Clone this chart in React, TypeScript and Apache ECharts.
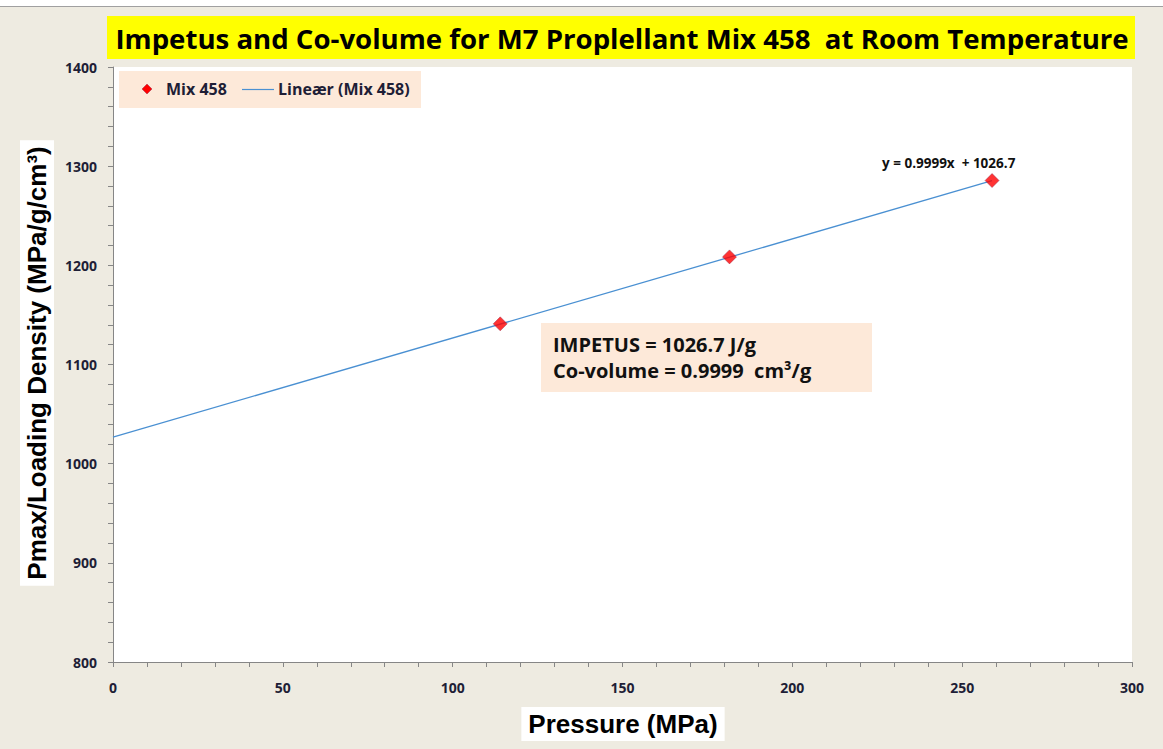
import React, { useEffect, useRef } from "react";
import * as echarts from "echarts";

const TITLE = "Impetus and Co-volume for M7 Proplellant Mix 458  at Room Temperature";
const X_TITLE = "Pressure (MPa)";
const Y_TITLE = "Pmax/Loading Density (MPa/g/cm³)";
const SERIES_NAME = "Mix 458";
const TREND_NAME = "Lineær (Mix 458)";
const PRESSURE = [114, 181.5, 258.8];
const RATIO = [1141, 1208.5, 1285.5];
const TREND_X = [0, 258.8];
const TREND_Y = [1026.7, 1285.5];
const EQUATION = "y = 0.9999x  + 1026.7";
const NOTE_LINES = ["IMPETUS = 1026.7 J/g", "Co-volume = 0.9999  cm³/g"];
const X_TICKS = { min: 0, max: 300, interval: 50 };
const Y_TICKS = { min: 800, max: 1400, interval: 100 };

const BEIGE = "#EEEBE1";
const PEACH = "#FDE9D9";
const LINE_BLUE = "#4A90D2";
const LABEL_COLOR = "#1E1E36";
const CAL = "'Open Sans', Lato, sans-serif";
const ARIAL = "'Liberation Sans', Arial, sans-serif";

export default function App() {
  const ref = useRef<HTMLDivElement>(null);
  useEffect(() => {
    if (!ref.current) return;
    const chart = echarts.init(ref.current, null, { renderer: "svg" });
    const axisCommon = {
      axisLine: { show: true, lineStyle: { color: "#868686", width: 1 } },
      axisTick: { show: true, inside: false, length: 5, lineStyle: { color: "#868686" } },
      minorTick: { show: true, splitNumber: 5, length: 5, lineStyle: { color: "#868686" } },
      splitLine: { show: false },
      minorSplitLine: { show: false },
    };
    const labelStyle = {
      fontFamily: CAL, fontWeight: "bold", fontSize: 14, color: LABEL_COLOR,
      formatter: (v: number) => String(v),
    };
    chart.setOption({
      animation: false,
      backgroundColor: BEIGE,
      grid: { left: 113, top: 67, right: 31, bottom: 87, show: true, backgroundColor: "#FFFFFF", borderWidth: 0 },
      xAxis: {
        type: "value",
        ...X_TICKS,
        ...axisCommon,
        axisLabel: { margin: 18, ...labelStyle },
      },
      yAxis: {
        type: "value",
        ...Y_TICKS,
        ...axisCommon,
        axisLabel: { margin: 16, ...labelStyle },
      },
      series: [
        {
          name: TREND_NAME,
          type: "line",
          data: TREND_X.map((x, i) => [x, TREND_Y[i]]),
          showSymbol: false,
          symbol: "none",
          lineStyle: { color: LINE_BLUE, width: 1.3 },
          z: 2,
          silent: true,
        },
        {
          name: SERIES_NAME,
          type: "scatter",
          data: PRESSURE.map((x, i) => [x, RATIO[i]]),
          symbol: "diamond",
          symbolSize: [14, 14],
          itemStyle: { color: "#FF0000", borderColor: "#9A3050", borderWidth: 0.6 },
          z: 3,
        },
      ],
      graphic: [
        { type: "rect", shape: { x: 0, y: 0, width: 1163, height: 6 }, style: { fill: "#FFFFFF" }, z: 0 },
        { type: "line", shape: { x1: 0, y1: 6.5, x2: 1163, y2: 6.5 }, style: { stroke: "#A0A0A0", lineWidth: 1 }, z: 1 },
        { type: "rect", shape: { x: 107, y: 16, width: 1028, height: 43 }, style: { fill: "#FFFF00" }, z: 1 },
        {
          type: "text", x: 622, y: 38, z: 2,
          style: { text: TITLE, fill: "#000000", font: `bold 27.6px ${CAL}`, align: "center", verticalAlign: "middle" },
        },
        // legend
        { type: "rect", shape: { x: 119, y: 71, width: 302, height: 37 }, style: { fill: PEACH }, z: 5 },
        {
          type: "polygon", z: 6,
          shape: { points: [[147, 84], [152, 89], [147, 94], [142, 89]] },
          style: { fill: "#FF0000", stroke: "#9A3050", lineWidth: 0.5 },
        },
        {
          type: "text", x: 166, y: 89, z: 6,
          style: { text: SERIES_NAME, fill: LABEL_COLOR, font: `bold 16px ${CAL}`, verticalAlign: "middle" },
        },
        { type: "line", z: 6, shape: { x1: 242, y1: 89.5, x2: 274, y2: 89.5 }, style: { stroke: LINE_BLUE, lineWidth: 1.2 } },
        {
          type: "text", x: 278, y: 89, z: 6,
          style: { text: TREND_NAME, fill: LABEL_COLOR, font: `bold 16px ${CAL}`, verticalAlign: "middle" },
        },
        // equation
        {
          type: "text", x: 882, y: 163, z: 6,
          style: { text: EQUATION, fill: "#111111", font: `bold 13.5px ${CAL}`, verticalAlign: "middle" },
        },
        // note box
        { type: "rect", shape: { x: 541, y: 323, width: 331, height: 69 }, style: { fill: PEACH }, z: 5 },
        {
          type: "text", x: 553, y: 344, z: 6,
          style: { text: NOTE_LINES[0], fill: "#111111", font: `bold 20px ${CAL}`, verticalAlign: "middle" },
        },
        {
          type: "text", x: 553, y: 370, z: 6,
          style: { text: NOTE_LINES[1], fill: "#111111", font: `bold 20px ${CAL}`, verticalAlign: "middle" },
        },
        // axis titles
        {
          type: "text", x: 623, y: 724, z: 6,
          style: {
            text: X_TITLE, fill: "#000000", font: `bold 26px ${ARIAL}`, align: "center", verticalAlign: "middle",
            backgroundColor: "#FFFFFF", padding: [4, 7, 4, 7],
          },
        },
        {
          type: "text", x: 37, y: 363, rotation: Math.PI / 2, z: 6,
          style: {
            text: Y_TITLE, fill: "#000000", font: `bold 26px ${ARIAL}`, align: "center", verticalAlign: "middle",
            backgroundColor: "#FFFFFF", padding: [4, 6, 4, 6],
          },
        },
      ],
    });
    return () => chart.dispose();
  }, []);
  return (
    <div style={{ position: "fixed", left: 0, top: 0, width: 1163, height: 749, background: BEIGE }}>
      <div ref={ref} style={{ width: 1163, height: 749 }} />
    </div>
  );
}
